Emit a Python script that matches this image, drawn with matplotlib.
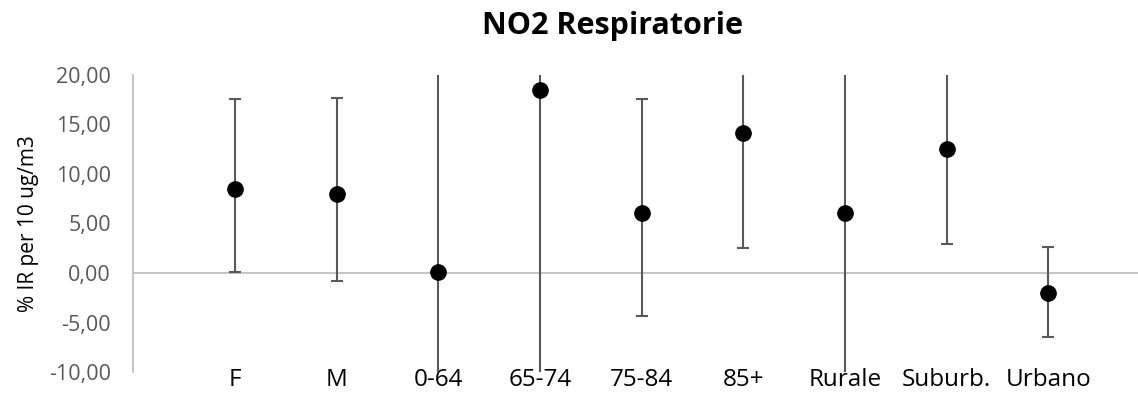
import matplotlib.pyplot as plt
from matplotlib.ticker import FuncFormatter
import numpy as np

plt.rcParams["font.family"] = ["Open Sans", "DejaVu Sans"]

categories = ["F", "M", "0-64", "65-74", "75-84", "85+", "Rurale", "Suburb.", "Urbano"]
estimates = [8.5, 8.0, 0.1, 18.5, 6.1, 14.1, 6.1, 12.5, -2.05]
lower = [0.15, -0.8, -25.0, -12.0, -4.35, 2.55, -15.0, 2.9, -6.5]
upper = [17.6, 17.65, 27.0, 52.0, 17.6, 26.0, 28.0, 22.0, 2.6]


def main():
    est = np.array(estimates)
    yerr = np.vstack([est - np.array(lower), np.array(upper) - est])
    x = np.arange(1, len(categories) + 1)

    fig = plt.figure(figsize=(11.38, 3.98), dpi=100)
    ax = fig.add_axes([0.117, 0.065, 0.883, 0.747])

    ax.axhline(0, color="#bfbfbf", linewidth=1.3, zorder=1)
    ax.errorbar(
        x, est, yerr=yerr,
        fmt="o", color="black", markersize=11,
        ecolor="#595959", elinewidth=1.5, capsize=4.5, capthick=1.5,
        zorder=3,
    )

    ax.set_xlim(0, 9.88)
    ax.set_ylim(-10, 20)
    ax.set_yticks(np.arange(-10, 21, 5))
    ax.yaxis.set_major_formatter(FuncFormatter(lambda v, _: f"{v:.2f}".replace(".", ",")))
    ax.set_xticks(x)
    ax.set_xticklabels(categories)

    for side in ["top", "right", "bottom"]:
        ax.spines[side].set_visible(False)
    ax.spines["left"].set_color("#bfbfbf")
    ax.spines["left"].set_linewidth(1.3)

    ax.tick_params(axis="y", length=0, pad=16, labelsize=15.5, labelcolor="#595959")
    ax.tick_params(axis="x", length=0, pad=-3, labelsize=17.5, labelcolor="black")

    ax.set_ylabel("% IR per 10 ug/m3", fontsize=15, color="black")
    ax.yaxis.set_label_coords(-0.094, 0.5)
    fig.suptitle("NO2 Respiratorie", x=0.538, y=0.972, fontsize=22, fontweight="bold")

    fig.savefig("out.png", dpi=100)
    plt.close(fig)


if __name__ == "__main__":
    main()
